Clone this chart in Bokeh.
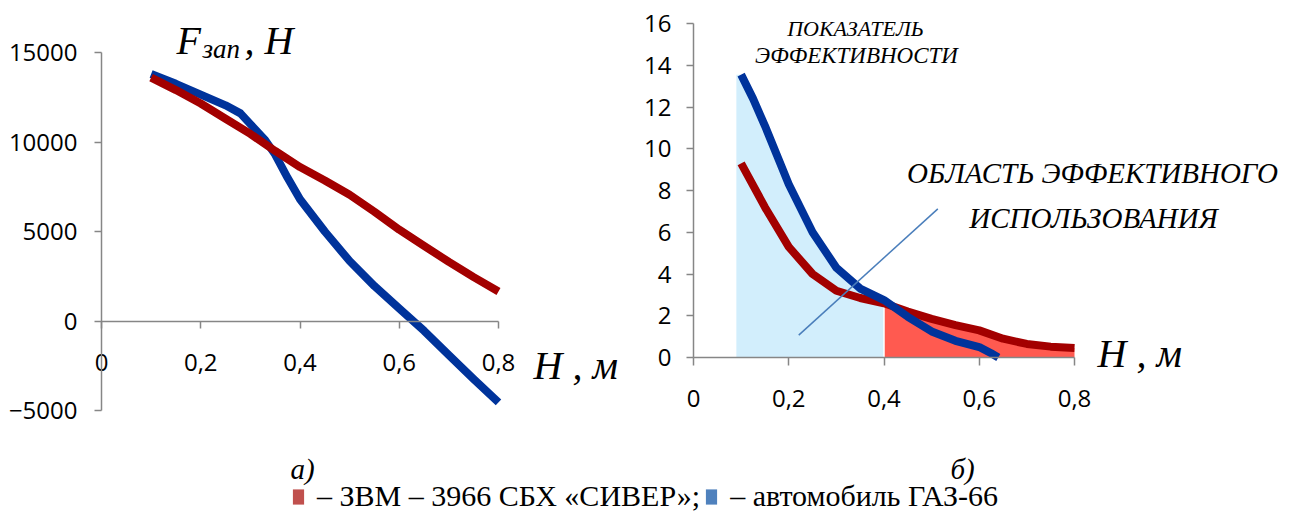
from bokeh.plotting import figure
from bokeh.models import (Range1d, Label, FixedTicker, CustomJSTickFormatter, LinearAxis,
                          Legend, LegendItem)
from bokeh.embed import file_html
from bokeh.resources import INLINE

# ---------------- data ----------------
# a) braking force F_зап, Н versus height H, м
h_left_zvm = [0.10, 0.15, 0.20, 0.25, 0.30, 0.35, 0.40, 0.45, 0.50, 0.55, 0.60, 0.65, 0.70, 0.75, 0.80]
f_left_zvm = [13600, 12900, 12150, 11300, 10450, 9500, 8600, 7850, 7050, 6100, 5100, 4200, 3300, 2450, 1650]
h_left_gaz = [0.10, 0.15, 0.20, 0.25, 0.28, 0.30, 0.33, 0.35, 0.375, 0.40, 0.45, 0.50, 0.55, 0.60, 0.65, 0.70, 0.75, 0.80]
f_left_gaz = [13800, 13250, 12650, 12050, 11600, 11000, 10100, 9300, 8000, 6800, 5000, 3350, 1950, 700, -550, -1900, -3250, -4550]

# б) efficiency index versus height H, м
h_right_zvm = [0.10, 0.15, 0.20, 0.25, 0.30, 0.35, 0.40, 0.45, 0.50, 0.55, 0.60, 0.65, 0.70, 0.75, 0.80]
e_right_zvm = [9.3, 7.2, 5.3, 4.0, 3.2, 2.85, 2.6, 2.2, 1.85, 1.55, 1.3, 0.9, 0.65, 0.52, 0.45]
h_right_gaz = [0.10, 0.125, 0.15, 0.175, 0.20, 0.25, 0.30, 0.35, 0.40, 0.45, 0.50, 0.55, 0.60, 0.625, 0.64]
e_right_gaz = [13.55, 12.4, 11.1, 9.7, 8.3, 6.0, 4.3, 3.3, 2.75, 1.95, 1.25, 0.8, 0.5, 0.2, 0.0]

area_start = 0.09   # start of the blue shaded region
area_split = 0.40   # border between blue and red regions
area_end = 0.80     # end of the red region
pointer_h = [0.221, 0.513]
pointer_e = [1.07, 7.12]

x_ticks = [0, 0.2, 0.4, 0.6, 0.8]
y_ticks_left = [-5000, 0, 5000, 10000, 15000]
y_ticks_right = [0, 2, 4, 6, 8, 10, 12, 14, 16]

legend_labels = ["– ЗВМ – 3966 СБХ «СИВЕР»;", "– автомобиль ГАЗ-66"]

# ---------------- layout (page pixels) ----------------
X0, Y0, W, H = 0, 0, 1294, 511
X1, Y1 = X0 + W, Y0 + H


def rng_x(v0, p0, v1, p1):
    k = (v1 - v0) / (p1 - p0)
    return Range1d(v0 + (X0 - p0) * k, v0 + (X1 - p0) * k)


def rng_y(v0, p0, v1, p1):
    k = (v1 - v0) / (p1 - p0)
    return Range1d(v0 + (Y1 - p0) * k, v0 + (Y0 - p0) * k)


RED = "#A30000"
BLUE = "#00339B"
AXIS = "#868686"
TICK_FONT = "Open Sans"
SERIF = "Liberation Serif"
LW = 8
fmt = CustomJSTickFormatter(code="return tick === 0 ? '0' : tick.toFixed(1).replace('.', ',');")

p = figure(width=W, height=H, output_backend="svg", toolbar_location=None,
           x_range=Range1d(X0, X1), y_range=Range1d(Y1, Y0),
           x_axis_type=None, y_axis_type=None,
           min_border=0, min_border_left=0, min_border_right=0,
           min_border_top=0, min_border_bottom=0)
p.outline_line_color = None
p.extra_x_ranges = {"lx": rng_x(0, 101, 0.8, 498), "rx": rng_x(0, 693, 0.8, 1074)}
p.extra_y_ranges = {"ly": rng_y(15000, 52, -5000, 410), "ry": rng_y(16, 23, 0, 357)}


def axis(side, xr, yr, ticks, bounds, standoff, tick_out=7, formatter=None):
    ax = LinearAxis(x_range_name=xr, y_range_name=yr, fixed_location=0, bounds=bounds,
                    ticker=FixedTicker(ticks=ticks),
                    axis_line_color=AXIS, axis_line_width=1.5,
                    major_tick_line_color=AXIS, major_tick_line_width=1.5,
                    major_tick_out=tick_out, major_tick_in=0, minor_tick_out=0, minor_tick_in=0,
                    major_label_text_font=TICK_FONT, major_label_text_font_size="24px",
                    major_label_text_color="#000000", major_label_standoff=standoff)
    if formatter is not None:
        ax.formatter = formatter
    p.add_layout(ax, side)


# ----- chart а) -----
axis("left", "lx", "ly", y_ticks_left, (-5000, 15000), 17)
axis("below", "lx", "ly", x_ticks, (0, 0.8), 26, formatter=fmt)
p.line(h_left_gaz, f_left_gaz, line_color=BLUE, line_width=LW, line_join="round",
       x_range_name="lx", y_range_name="ly")
p.line(h_left_zvm, f_left_zvm, line_color=RED, line_width=LW, line_join="round",
       x_range_name="lx", y_range_name="ly")

# ----- chart б) -----
blue_x = [area_start] + [h for h in h_right_gaz if h <= area_split]
blue_top = [e_right_gaz[0]] + [e for h, e in zip(h_right_gaz, e_right_gaz) if h <= area_split]
p.varea(x=blue_x, y1=[0] * len(blue_x), y2=blue_top, fill_color="#D2EEFC",
        x_range_name="rx", y_range_name="ry")
red_x = [h for h in h_right_zvm if area_split <= h <= area_end]
red_top = [e for h, e in zip(h_right_zvm, e_right_zvm) if area_split <= h <= area_end]
p.varea(x=red_x, y1=[0] * len(red_x), y2=red_top, fill_color="#FF5A50",
        x_range_name="rx", y_range_name="ry")
p.line([area_split, area_split], [0, red_top[0]], line_color="white", line_width=1.5,
       x_range_name="rx", y_range_name="ry")
axis("left", "rx", "ry", y_ticks_right, (0, 16), 15)
axis("below", "rx", "ry", x_ticks, (0, 0.8), 24, tick_out=8, formatter=fmt)
p.line(h_right_zvm, e_right_zvm, line_color=RED, line_width=LW, line_join="round",
       x_range_name="rx", y_range_name="ry")
p.line(h_right_gaz, e_right_gaz, line_color=BLUE, line_width=LW, line_join="round",
       x_range_name="rx", y_range_name="ry")
p.line(pointer_h, pointer_e, line_color="#4A7EBB", line_width=1.5, x_range_name="rx", y_range_name="ry")


# ----- texts (page pixel positions, baseline) -----
def lab(x, y, text, size, align="left", style_="italic"):
    p.add_layout(Label(x=x, y=y, text=text, text_font=SERIF, text_font_style=style_,
                       text_font_size=size, text_align=align, text_baseline="alphabetic",
                       text_color="#000000"))


lab(176, 40, "F", "40px")
lab(202, 48, "зап", "27px")
lab(244, 40, ", Н", "40px")
lab(533, 365, "H , м", "40px")
lab(1097, 353, "H , м", "40px")
lab(855, 28, "ПОКАЗАТЕЛЬ", "22px", align="center")
lab(856, 55, "ЭФФЕКТИВНОСТИ", "23px", align="center")
lab(1092, 172, "ОБЛАСТЬ ЭФФЕКТИВНОГО", "29px", align="center")
lab(1093, 217, "ИСПОЛЬЗОВАНИЯ", "29px", align="center")
lab(290, 468, "а)", "29px")
lab(950, 468, "б)", "29px")

# ----- legend -----
nan = float("nan")
r1 = p.rect(x=[nan], y=[nan], width=1, height=1, fill_color="#C0504D", line_color=None)
r2 = p.rect(x=[nan], y=[nan], width=1, height=1, fill_color="#4F81BD", line_color=None)
leg = Legend(items=[LegendItem(label=legend_labels[0], renderers=[r1]),
                    LegendItem(label=legend_labels[1], renderers=[r2])],
             orientation="horizontal", location=(291, -2),
             glyph_width=14, glyph_height=19, label_standoff=12, spacing=4,
             label_height=15, padding=0, margin=0, border_line_color=None,
             background_fill_alpha=0,
             label_text_font=SERIF, label_text_font_size="30px", label_text_color="#000000")
p.add_layout(leg, "center")

open("out.html", "w").write(file_html(p, INLINE))
